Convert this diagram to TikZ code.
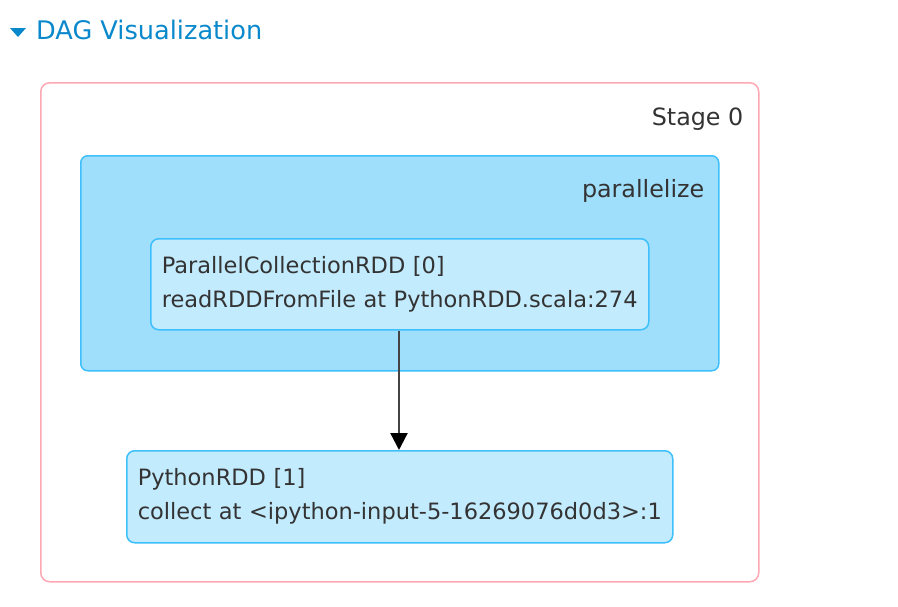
\documentclass[tikz,border=0pt]{standalone}
\usepackage{fontspec}
\setmainfont{DejaVu Sans}
\usetikzlibrary{positioning,arrows.meta,calc}
\definecolor{daglink}{HTML}{0A88CC}
\definecolor{dagtext}{HTML}{333333}
\definecolor{stageline}{HTML}{FFA8B4}
\definecolor{clusterfill}{HTML}{A0DFFC}
\definecolor{rddfill}{HTML}{C3EBFE}
\definecolor{rddline}{HTML}{3EC0FC}
\definecolor{edgeline}{HTML}{444444}
\tikzset{
  stagebox/.style  ={draw=stageline, fill=white, line width=1.5pt, rounded corners=9pt,
                     inner sep=0pt},
  clusterbox/.style={draw=rddline, fill=clusterfill, line width=1.5pt, rounded corners=7pt,
                     inner sep=0pt},
  rddbox/.style    ={draw=rddline, fill=rddfill, line width=1.5pt, rounded corners=8pt,
                     align=left, inner xsep=11pt, inner ysep=0pt, text=dagtext,
                     font=\fontsize{22.5}{34}\selectfont},
  boxlabel/.style  ={anchor=east, text=dagtext, inner sep=0pt,
                     font=\fontsize{23.8}{26}\selectfont},
  title/.style     ={anchor=west, text=daglink, inner sep=0pt,
                     font=\fontsize{25.6}{30}\selectfont},
  dagedge/.style   ={-{Triangle[length=17pt,width=17pt,color=black]}, draw=edgeline,
                     line width=2.3pt},
}
\begin{document}
\begin{tikzpicture}[x=1pt,y=-1pt]
  \useasboundingbox (0,0) rectangle (898,606);

  % ---- header --------------------------------------------------------------
  \fill[daglink] (10,28) -- (26,28) -- (18,37) -- cycle;
  \node[title] (head) at (36,30) {DAG Visualization};

  % ---- stage and cluster ---------------------------------------------------
  \node[stagebox, anchor=north west, minimum width=718, minimum height=499]
    (stage) at (40,82) {};
  \node[boxlabel] (stagename) at ([xshift=-16,yshift=-37]stage.north east) {Stage 0};

  \node[clusterbox, anchor=north west, minimum width=638, minimum height=215]
    (cluster) at (80,155) {};
  \node[boxlabel] (clustername) at ([xshift=-15,yshift=-36]cluster.north east)
    {parallelize};

  % ---- the two RDDs --------------------------------------------------------
  \node[rddbox, anchor=north west, text width=476, minimum height=91]
    (rdd0) at (150,238)
    {\mbox{ParallelCollectionRDD [0]}\\\mbox{readRDDFromFile at PythonRDD.scala:274}};
  \node[rddbox, anchor=north west, text width=524, minimum height=92]
    (rdd1) at (126,450)
    {\mbox{PythonRDD [1]}\\\mbox{collect at <ipython-input-5-16269076d0d3>:1}};

  \draw[dagedge] (rdd0.south -| 399,0) -- (rdd1.north -| 399,0);
\end{tikzpicture}
\end{document}
